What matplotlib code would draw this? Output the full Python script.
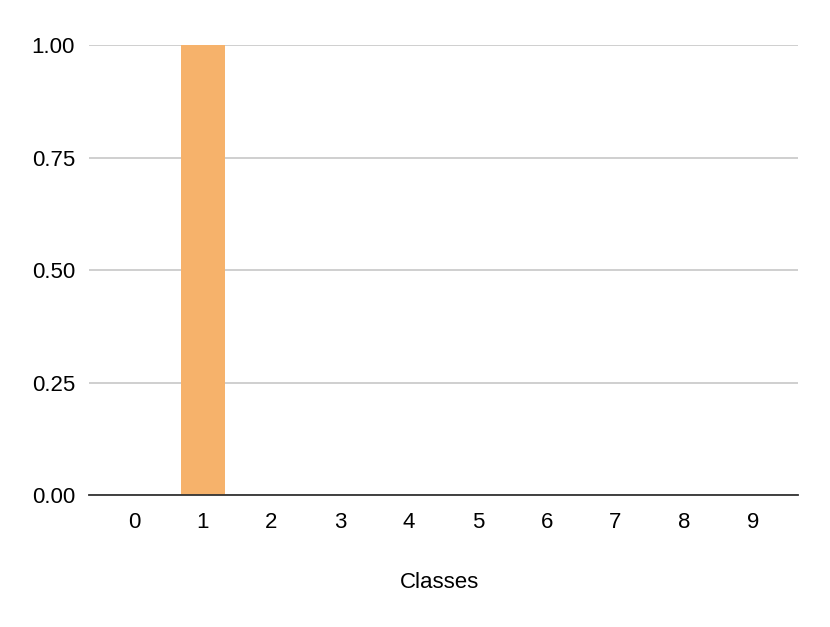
import matplotlib
matplotlib.use("Agg")
import matplotlib.pyplot as plt

# ── 数据 ─────────────────────────────────────────────
classes = ["0", "1", "2", "3", "4", "5", "6", "7", "8", "9"]
values = [0, 1, 0, 0, 0, 0, 0, 0, 0, 0]
yticks = [0.0, 0.25, 0.5, 0.75, 1.0]

BAR_COLOR = "#F6B26B"
FS = 16

plt.rcParams["font.family"] = ["Liberation Sans", "DejaVu Sans"]

fig = plt.figure(figsize=(8.3, 6.27), dpi=100)
ax = fig.add_axes([0.1072, 0.2105, 0.8542, 0.7177])

x = list(range(len(classes)))
ax.bar(x, values, width=0.64, color=BAR_COLOR, zorder=2)

ax.set_xlim(-0.655, len(classes) - 0.345)
ax.set_ylim(0, 1)
ax.set_yticks(yticks)
ax.set_yticklabels([f"{v:.2f}" for v in yticks], fontsize=FS, color="#000000")
ax.set_xticks(x)
ax.set_xticklabels(classes, fontsize=FS, color="#000000")
ax.tick_params(axis="both", length=0)
ax.tick_params(axis="x", pad=12)
ax.tick_params(axis="y", pad=10)

ax.grid(axis="y", color="#CCCCCC", linewidth=1.3, zorder=1)
ax.set_axisbelow(True)
for s in ("top", "right", "left"):
    ax.spines[s].set_visible(False)
ax.spines["bottom"].set_color("#333333")
ax.spines["bottom"].set_linewidth(1.3)
ax.spines["bottom"].set_zorder(3)

ax.set_xlabel("Classes", fontsize=FS, labelpad=28)
ax.xaxis.label.set_x(0.494)

fig.savefig("out.png", dpi=100)
